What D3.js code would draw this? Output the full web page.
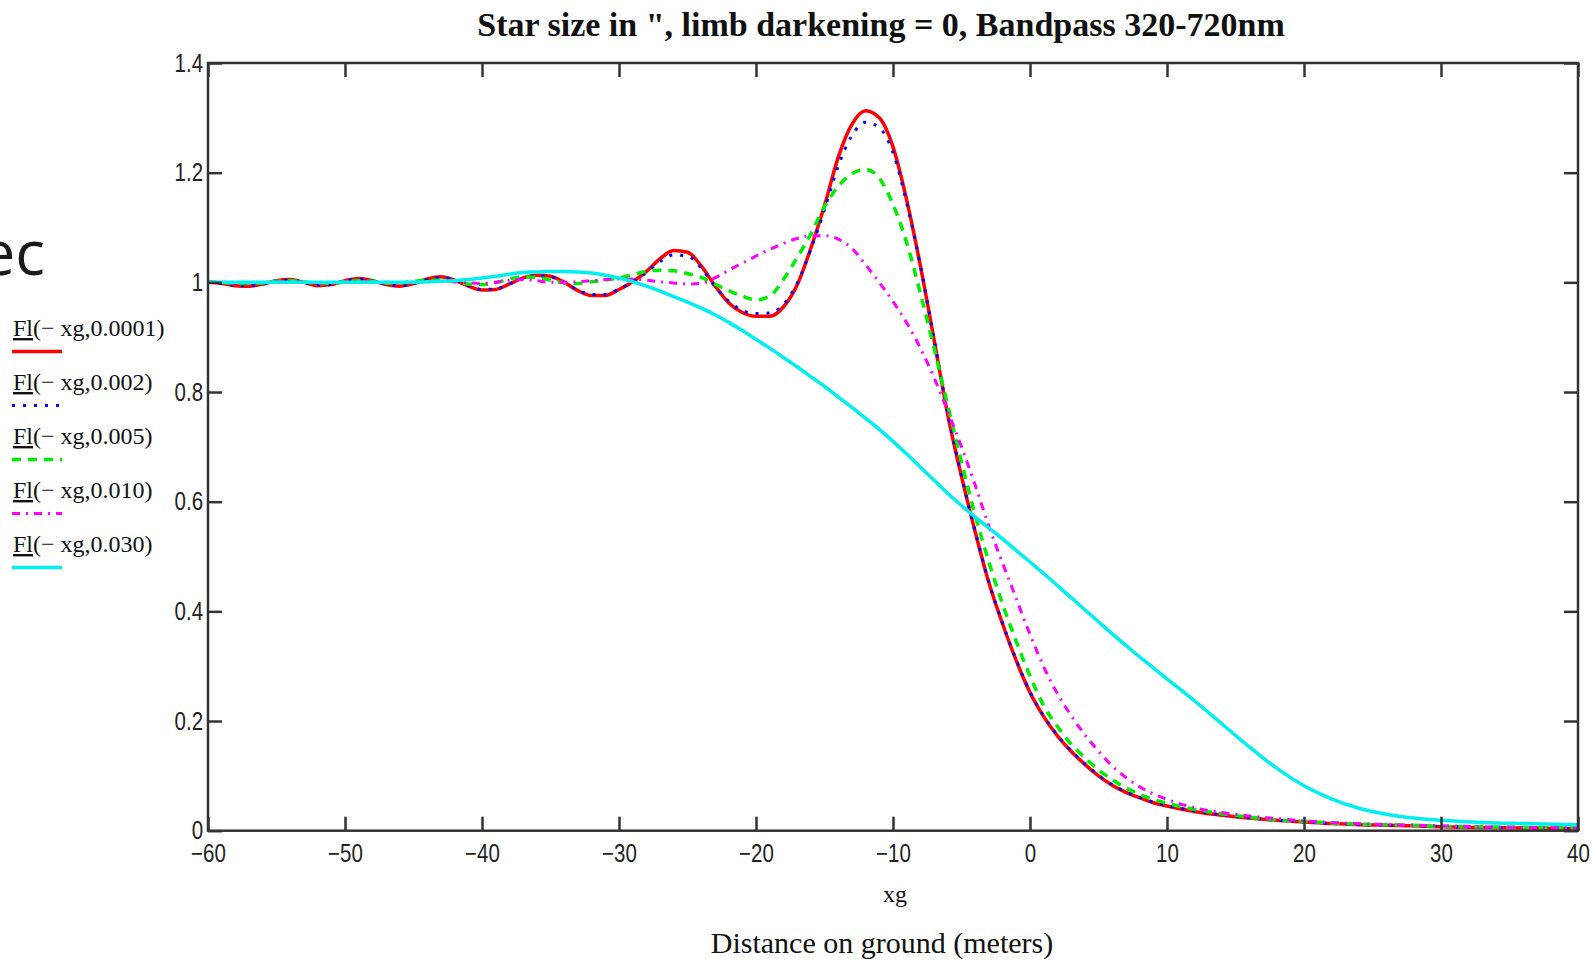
<!DOCTYPE html>
<html>
<head>
<meta charset="utf-8">
<script src="https://cdn.jsdelivr.net/npm/d3@7"></script>
<style>
  html, body { margin: 0; padding: 0; background: #ffffff; }
  svg { display: block; }
  .tick text {
    font-family: "Liberation Sans Narrow", "Liberation Sans", Arial, sans-serif;
    font-size: 25px;
    fill: #222;
  }
  .tick line { stroke: #333; stroke-width: 2.5; }
  .serif { font-family: "Liberation Serif", "Times New Roman", serif; fill: #111; }
</style>
</head>
<body>
<svg id="chart" width="1594" height="961"></svg>
<script>
// Distance on ground xg (metres) at which each trace is sampled
const xg = [
  -60, -59, -58, -57, -56, -55, -54, -53, -52, -51,
  -50, -49, -48, -47, -46, -45, -44, -43, -42, -41,
  -40, -39, -38, -37, -36, -35, -34, -33, -32, -31,
  -30, -29, -28, -27, -26, -25, -24, -23, -22, -21,
  -20, -19, -18, -17, -16, -15, -14, -13, -12, -11,
  -10, -9, -8, -7, -6, -5, -4, -3, -2, -1,
  0, 1, 2, 3, 4, 5, 6, 7, 8, 9,
  10, 12, 14, 16, 18, 20, 22, 24, 26, 28,
  30, 33, 36, 40
];

// Fl(-xg, star size) for star sizes 0.0001", 0.002", 0.005", 0.010", 0.030"
const fl0001 = [
  1.000, 0.998, 0.994, 0.993, 0.997, 1.003, 1.005, 1.000, 0.994, 0.996,
  1.003, 1.007, 1.003, 0.996, 0.993, 0.998, 1.006, 1.010, 1.004, 0.993,
  0.986, 0.987, 0.997, 1.008, 1.013, 1.011, 1.000, 0.985, 0.976, 0.976,
  0.987, 1.001, 1.020, 1.043, 1.058, 1.055, 1.030, 0.994, 0.963, 0.945,
  0.938, 0.938, 0.955, 0.995, 1.062, 1.140, 1.228, 1.288, 1.313, 1.300,
  1.247, 1.150, 1.030, 0.895, 0.758, 0.646, 0.545, 0.452, 0.377, 0.310,
  0.252, 0.208, 0.173, 0.145, 0.121, 0.100, 0.083, 0.070, 0.060, 0.051,
  0.045, 0.035, 0.028, 0.023, 0.019, 0.016, 0.013, 0.011, 0.010, 0.009,
  0.007, 0.006, 0.005, 0.004
];
const fl002 = [
  1.000, 0.998, 0.995, 0.994, 0.997, 1.003, 1.004, 1.000, 0.995, 0.996,
  1.003, 1.006, 1.003, 0.997, 0.994, 0.998, 1.005, 1.009, 1.004, 0.994,
  0.987, 0.988, 0.997, 1.007, 1.012, 1.010, 1.000, 0.986, 0.978, 0.978,
  0.988, 1.001, 1.018, 1.038, 1.050, 1.048, 1.026, 0.993, 0.966, 0.949,
  0.943, 0.944, 0.960, 0.998, 1.060, 1.133, 1.212, 1.268, 1.292, 1.282,
  1.237, 1.145, 1.030, 0.896, 0.760, 0.647, 0.546, 0.453, 0.378, 0.311,
  0.253, 0.209, 0.174, 0.146, 0.122, 0.101, 0.084, 0.071, 0.061, 0.052,
  0.046, 0.036, 0.029, 0.023, 0.019, 0.016, 0.013, 0.011, 0.010, 0.009,
  0.008, 0.006, 0.005, 0.004
];
const fl005 = [
  1.000, 1.000, 0.998, 0.998, 0.999, 1.002, 1.003, 1.001, 0.998, 0.998,
  1.001, 1.003, 1.002, 0.999, 0.999, 1.002, 1.004, 1.004, 1.001, 0.997,
  0.996, 0.999, 1.006, 1.010, 1.009, 1.004, 0.999, 0.998, 1.001, 1.004,
  1.008, 1.014, 1.020, 1.022, 1.021, 1.016, 1.009, 0.997, 0.985, 0.975,
  0.968, 0.975, 1.005, 1.045, 1.088, 1.138, 1.175, 1.198, 1.206, 1.190,
  1.142, 1.072, 0.980, 0.880, 0.775, 0.673, 0.575, 0.490, 0.413, 0.345,
  0.282, 0.228, 0.190, 0.158, 0.133, 0.111, 0.093, 0.078, 0.066, 0.057,
  0.050, 0.039, 0.031, 0.025, 0.020, 0.017, 0.014, 0.012, 0.011, 0.010,
  0.008, 0.007, 0.006, 0.005
];
const fl010 = [
  1.000, 1.000, 0.999, 0.999, 1.000, 1.001, 1.001, 1.000, 0.999, 0.999,
  1.000, 1.001, 1.001, 1.000, 0.999, 1.000, 1.001, 1.002, 1.001, 0.999,
  0.998, 1.000, 1.004, 1.005, 1.003, 1.000, 1.000, 1.001, 1.003, 1.005,
  1.006, 1.006, 1.004, 1.001, 0.999, 0.997, 0.998, 1.008, 1.022, 1.035,
  1.048, 1.060, 1.071, 1.080, 1.085, 1.085, 1.079, 1.062, 1.032, 1.000,
  0.965, 0.926, 0.880, 0.826, 0.765, 0.700, 0.630, 0.555, 0.488, 0.423,
  0.358, 0.299, 0.250, 0.210, 0.175, 0.145, 0.118, 0.097, 0.080, 0.067,
  0.057, 0.042, 0.033, 0.027, 0.022, 0.018, 0.015, 0.013, 0.011, 0.010,
  0.009, 0.007, 0.006, 0.005
];
const fl030 = [
  1.000, 1.000, 1.000, 1.000, 1.000, 1.000, 1.000, 1.000, 1.000, 1.000,
  1.000, 1.000, 1.000, 1.000, 1.000, 1.000, 1.001, 1.002, 1.003, 1.005,
  1.008, 1.011, 1.015, 1.018, 1.019, 1.020, 1.020, 1.019, 1.017, 1.013,
  1.008, 1.001, 0.993, 0.984, 0.974, 0.964, 0.953, 0.941, 0.927, 0.912,
  0.896, 0.880, 0.863, 0.846, 0.828, 0.810, 0.791, 0.772, 0.752, 0.732,
  0.710, 0.687, 0.663, 0.639, 0.615, 0.593, 0.572, 0.552, 0.532, 0.511,
  0.490, 0.469, 0.447, 0.425, 0.403, 0.381, 0.359, 0.338, 0.317, 0.297,
  0.277, 0.237, 0.195, 0.153, 0.114, 0.082, 0.058, 0.041, 0.030, 0.023,
  0.019, 0.015, 0.013, 0.011
];

const traceArgs = ["0.0001", "0.002", "0.005", "0.010", "0.030"];

const xTicks = [-60, -50, -40, -30, -20, -10, 0, 10, 20, 30, 40];
const xTickLabels = ["\u221260", "\u221250", "\u221240", "\u221230", "\u221220", "\u221210", "0", "10", "20", "30", "40"];
const yTicks = [0, 0.2, 0.4, 0.6, 0.8, 1, 1.2, 1.4];
const yTickLabels = ["0", "0.2", "0.4", "0.6", "0.8", "1", "1.2", "1.4"];

const titleText = "Star size in \", limb darkening = 0, Bandpass 320-720nm";
const xVarText = "xg";
const xAxisText = "Distance on ground (meters)";

// ---- drawing ----
const svg = d3.select("#chart");
const plot = { left: 208, right: 1578, top: 63, bottom: 830.7 };

const x = d3.scaleLinear().domain([-60, 40]).range([plot.left, plot.right]);
const y = d3.scaleLinear().domain([0, 1.4]).range([plot.bottom, plot.top]);

const traces = [
  { values: fl0001, color: "#ff0000", width: 3.5, dash: null },
  { values: fl002,  color: "#0000ff", width: 3,   dash: "3 8" },
  { values: fl005,  color: "#00ee00", width: 3.5, dash: "9 7" },
  { values: fl010,  color: "#ff00ff", width: 3,   dash: "8 6 2 6" },
  { values: fl030,  color: "#00f0f0", width: 3.5, dash: null }
];

svg.append("defs").append("clipPath").attr("id", "plotClip")
  .append("rect")
  .attr("x", plot.left).attr("y", plot.top - 4)
  .attr("width", plot.right - plot.left).attr("height", plot.bottom - plot.top + 4);

const line = d3.line()
  .x((d, i) => x(xg[i]))
  .y(d => y(d))
  .curve(d3.curveMonotoneX);

const traceLayer = svg.append("g").attr("clip-path", "url(#plotClip)");
traces.forEach(t => {
  traceLayer.append("path")
    .datum(t.values)
    .attr("d", line)
    .attr("fill", "none")
    .attr("stroke", t.color)
    .attr("stroke-width", t.width)
    .attr("stroke-dasharray", t.dash)
    .attr("stroke-linejoin", "round");
});

// axes with inward ticks on all four sides; tick labels are narrowed horizontally
const fmtX = d => xTickLabels[xTicks.indexOf(d)];
const fmtY = d => yTickLabels[yTicks.indexOf(d)];
const narrow = g => g.selectAll(".tick text").attr("transform", "scale(0.82,1)");

svg.append("g")
  .attr("transform", `translate(0,${plot.bottom})`)
  .call(d3.axisBottom(x).tickValues(xTicks).tickFormat(fmtX).tickSize(-14).tickPadding(14))
  .call(g => g.select(".domain").remove())
  .call(narrow);

svg.append("g")
  .attr("transform", `translate(0,${plot.top})`)
  .call(d3.axisTop(x).tickValues(xTicks).tickFormat("").tickSize(-14))
  .call(g => g.select(".domain").remove());

svg.append("g")
  .attr("transform", `translate(${plot.left},0)`)
  .call(d3.axisLeft(y).tickValues(yTicks).tickFormat(fmtY).tickSize(-14).tickPadding(6))
  .call(g => g.select(".domain").remove())
  .call(narrow);

svg.append("g")
  .attr("transform", `translate(${plot.right},0)`)
  .call(d3.axisRight(y).tickValues(yTicks).tickFormat("").tickSize(-14))
  .call(g => g.select(".domain").remove());

svg.append("rect")
  .attr("x", plot.left).attr("y", plot.top)
  .attr("width", plot.right - plot.left).attr("height", plot.bottom - plot.top)
  .attr("fill", "none").attr("stroke", "#333").attr("stroke-width", 2.5);

// titles
svg.append("text").attr("class", "serif")
  .attr("x", 881).attr("y", 36).attr("text-anchor", "middle")
  .attr("font-size", 34).attr("font-weight", "bold").text(titleText);

svg.append("text").attr("class", "serif")
  .attr("x", 895).attr("y", 902).attr("text-anchor", "middle")
  .attr("font-size", 24).text(xVarText);

svg.append("text").attr("class", "serif")
  .attr("x", 882).attr("y", 953).attr("text-anchor", "middle")
  .attr("font-size", 30).text(xAxisText);

// fragment of neighbouring text at the left edge
svg.append("text")
  .attr("x", 45).attr("y", 275).attr("text-anchor", "end")
  .attr("font-family", "'Open Sans', 'Noto Sans', sans-serif")
  .attr("font-size", 62).attr("fill", "#1a1a1a")
  .text("ec");

// legend
const legend = svg.append("g");
traces.forEach((t, i) => {
  const ty = 336 + 54 * i;
  const txt = legend.append("text").attr("class", "serif")
    .attr("x", 13).attr("y", ty).attr("font-size", 24);
  txt.append("tspan").attr("text-decoration", "underline").text("Fl");
  txt.append("tspan").text("(\u2212 xg," + traceArgs[i] + ")");
  legend.append("line")
    .attr("x1", 12).attr("x2", 62)
    .attr("y1", ty + 15.5).attr("y2", ty + 15.5)
    .attr("stroke", t.color)
    .attr("stroke-width", t.width)
    .attr("stroke-dasharray", t.dash);
});
</script>
</body>
</html>
